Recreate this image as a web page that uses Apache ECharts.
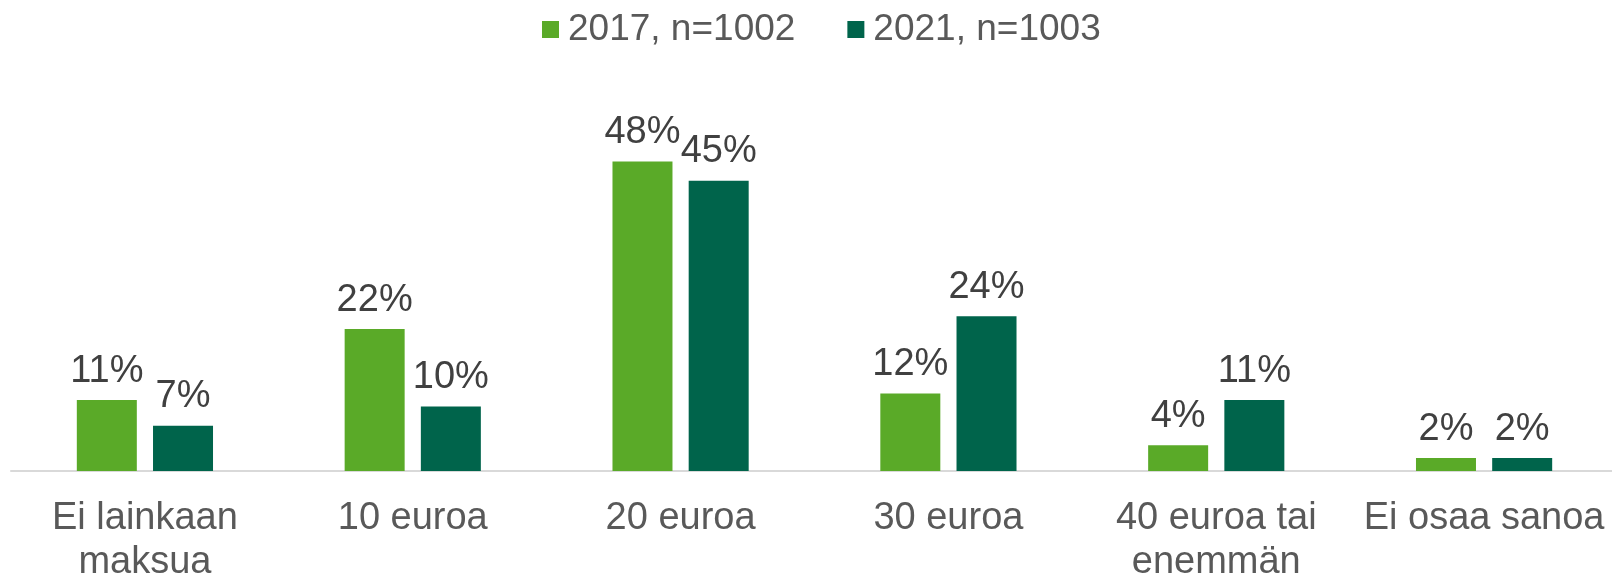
<!DOCTYPE html>
<html>
<head>
<meta charset="utf-8">
<script src="https://cdn.jsdelivr.net/npm/echarts@6/dist/echarts.min.js"></script>
<style>
  html, body { margin: 0; padding: 0; background: #fff; }
  #chart { width: 1612px; height: 575px; }
</style>
</head>
<body>
<div id="chart"></div>
<script>
// luokat ja arvot (%)
const categories = ['Ei lainkaan\nmaksua', '10 euroa', '20 euroa', '30 euroa', '40 euroa tai\nenemmän', 'Ei osaa sanoa'];
const seriesNames = ['2017, n=1002', '2021, n=1003'];
const values2017 = [11, 22, 48, 12, 4, 2];
const values2021 = [7, 10, 45, 24, 11, 2];

const colors = ['#5aaa28', '#00644b'];
const font = 'Arial, "Liberation Sans", sans-serif';

const chart = echarts.init(document.getElementById('chart'));

const labelOpt = {
  show: true,
  position: 'top',
  distance: 10,
  formatter: '{c}%',
  color: '#404040',
  fontSize: 38,
  fontFamily: font
};

const option = {
  animation: false,
  legend: {
    top: 6,
    left: 537,
    itemWidth: 17,
    itemHeight: 17,
    itemGap: 52,
    icon: 'rect',
    textStyle: { color: '#595959', fontSize: 37, fontFamily: font, padding: [0, 0, 0, 4] },
    data: seriesNames
  },
  grid: { left: 11, right: -6, top: 84, bottom: 104, containLabel: false, outerBoundsMode: 'none' },
  xAxis: {
    type: 'category',
    data: categories,
    axisLine: { lineStyle: { color: '#d9d9d9', width: 2 } },
    axisTick: { show: false },
    axisLabel: {
      color: '#595959',
      fontSize: 38,
      fontFamily: font,
      lineHeight: 44,
      margin: 26,
      interval: 0
    }
  },
  yAxis: {
    type: 'value',
    min: 0,
    max: 60,
    show: false,
    splitLine: { show: false }
  },
  series: [
    {
      name: seriesNames[0],
      type: 'bar',
      data: values2017,
      barWidth: 60,
      barGap: '27%',
      itemStyle: { color: colors[0] },
      label: labelOpt
    },
    {
      name: seriesNames[1],
      type: 'bar',
      data: values2021,
      barWidth: 60,
      barGap: '27%',
      itemStyle: { color: colors[1] },
      label: labelOpt
    }
  ]
};

chart.setOption(option);
</script>
</body>
</html>
